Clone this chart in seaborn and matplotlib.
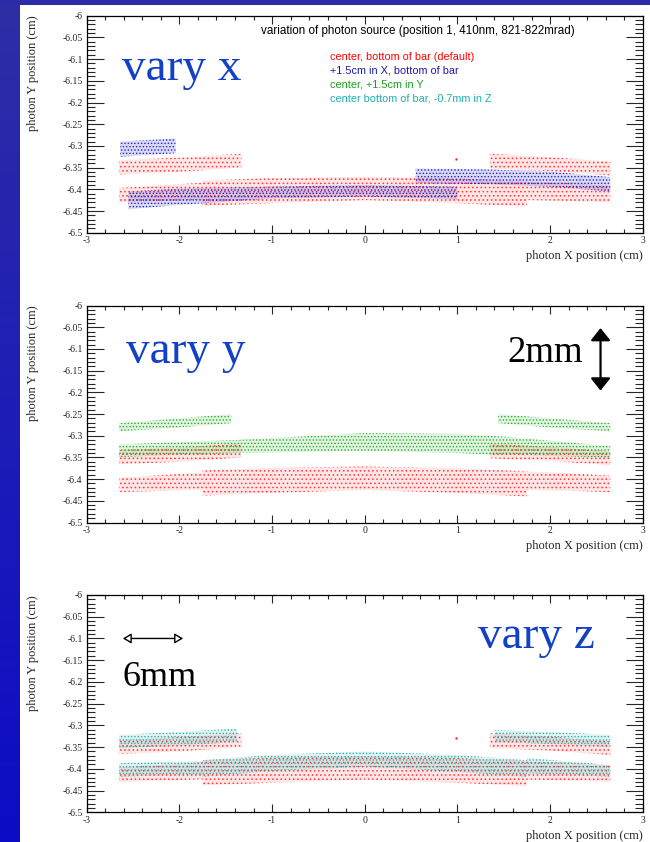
import matplotlib
matplotlib.use("Agg")
import numpy as np
import pandas as pd
import matplotlib.pyplot as plt
import seaborn as sns
from matplotlib.ticker import MultipleLocator, FuncFormatter
from matplotlib.colors import to_rgba

# ---- photon hit bands: x samples (cm) with upper / lower y edges (cm) ----
# default source: centre, bottom of bar
red_x = [[-2.65, -2.0, -1.33], [-2.65, -2.0, -1.75], [-1.75, -1.0, 0.0, 1.0, 1.75],
         [1.35, 2.0, 2.65], [1.75, 2.2, 2.65]]
red_top = [[-6.333, -6.327, -6.318], [-6.397, -6.388, -6.385],
           [-6.380, -6.374, -6.371, -6.375, -6.382], [-6.318, -6.326, -6.336],
           [-6.383, -6.386, -6.392]]
red_bot = [[-6.366, -6.360, -6.350], [-6.430, -6.426, -6.424],
           [-6.438, -6.432, -6.425, -6.432, -6.440], [-6.352, -6.358, -6.368],
           [-6.425, -6.427, -6.430]]

# +1.5 cm in X, bottom of bar
blue_x = [[-2.64, -2.04], [-2.55, -2.0, -1.0, 0.0, 1.0], [0.55, 1.3, 2.0, 2.65]]
blue_top = [[-6.290, -6.283], [-6.405, -6.398, -6.394, -6.390, -6.394],
            [-6.352, -6.354, -6.359, -6.372]]
blue_bot = [[-6.325, -6.317], [-6.446, -6.436, -6.421, -6.417, -6.423],
            [-6.386, -6.388, -6.394, -6.405]]

# centre, +1.5 cm in Y
green_x = [[-2.65, -2.0, -1.44], [-2.65, -1.4, 0.0, 1.0, 1.5, 2.65], [1.44, 2.0, 2.65]]
green_top = [[-6.271, -6.260, -6.250], [-6.320, -6.310, -6.294, -6.296, -6.302, -6.324],
             [-6.250, -6.260, -6.271]]
green_bot = [[-6.290, -6.281, -6.271], [-6.349, -6.340, -6.335, -6.340, -6.344, -6.350],
             [-6.271, -6.281, -6.290]]

# centre bottom of bar, -0.7 mm in Z
cyan_x = [[-2.65, -2.0, -1.38], [-2.65, -2.2, -1.75], [-1.75, -1.0, 0.0, 1.0, 1.75],
          [1.40, 2.0, 2.65], [1.75, 2.2, 2.65]]
cyan_top = [[-6.322, -6.315, -6.307], [-6.387, -6.384, -6.382],
            [-6.380, -6.368, -6.360, -6.368, -6.380], [-6.311, -6.315, -6.322],
            [-6.375, -6.383, -6.391]]
cyan_bot = [[-6.352, -6.347, -6.338], [-6.418, -6.415, -6.413],
            [-6.418, -6.405, -6.395, -6.407, -6.418], [-6.338, -6.343, -6.349],
            [-6.410, -6.414, -6.418]]

# isolated hit of the default source
stray_x = [0.984]
stray_y = [-6.330]

legend_labels = ["center, bottom of bar (default)", "+1.5cm in X, bottom of bar",
                 "center, +1.5cm in Y", "center bottom of bar, -0.7mm in Z"]
title_text = "variation of photon source (position 1, 410nm, 821-822mrad)"

RED, BLUE, GREEN, CYAN = "#ff2a2a", "#1414c8", "#18a818", "#14acac"
TXT_COLORS = ["#ff0000", "#1a1aa8", "#1aa01a", "#20b0b0"]
VARY_BLUE = "#1241c8"

sns.set_style("ticks")
plt.rcParams["font.family"] = ["Liberation Serif", "DejaVu Serif"]
plt.rcParams["hatch.linewidth"] = 0.6

fig = plt.figure(figsize=(6.5, 8.42), dpi=100)
W, H = 650.0, 842.0

# blue frame strips
strip = fig.add_axes([0, 0, 20 / W, 1])
grad = np.linspace(0, 1, 256)[:, None]
strip.imshow(grad, aspect="auto", cmap=matplotlib.colors.LinearSegmentedColormap.from_list(
    "strip", ["#2e2ea6", "#0c0cc6"]), extent=[0, 1, 0, 1], origin="upper")
strip.set_axis_off()
topbar = fig.add_axes([0, 1 - 5 / H, 1, 5 / H])
topbar.set_facecolor("#2c2ca8")
topbar.set_xticks([]); topbar.set_yticks([])
for s in topbar.spines.values():
    s.set_visible(False)


def panel_axes(top_px, bottom_px):
    left, right = 86.7, 642.7
    return fig.add_axes([left / W, 1 - bottom_px / H, (right - left) / W,
                         (bottom_px - top_px) / H])


def draw_band(ax, xs, top, bot, color, hatch, face_alpha):
    df = pd.DataFrame({"x": list(xs) + list(xs), "y": list(top) + list(bot)})
    n = len(ax.collections)
    sns.lineplot(data=df, x="x", y="y", estimator="mean", errorbar=("pi", 100),
                 color=color, linewidth=0, ax=ax, legend=False)
    band = ax.collections[n]
    band.set_alpha(None)
    band.set_facecolor(to_rgba(color, face_alpha))
    band.set_edgecolor(to_rgba(color, 0.9))
    band.set_linewidth(0)
    band.set_hatch(hatch)


def draw_series(ax, xs, tops, bots, color, hatch, face_alpha):
    for x, t, b in zip(xs, tops, bots):
        draw_band(ax, x, t, b, color, hatch, face_alpha)


def style_panel(ax):
    ax.set_xlim(-3, 3)
    ax.set_ylim(-6.5, -6.0)
    ax.xaxis.set_major_locator(MultipleLocator(1))
    ax.xaxis.set_minor_locator(MultipleLocator(0.2))
    ax.yaxis.set_major_locator(MultipleLocator(0.05))
    ax.yaxis.set_minor_locator(MultipleLocator(0.01))
    fmt = FuncFormatter(lambda v, p: f"{v:g}")
    ax.xaxis.set_major_formatter(fmt)
    ax.yaxis.set_major_formatter(fmt)
    ax.tick_params(axis="x", which="major", direction="in", length=5.5, width=0.8,
                   top=True, labelsize=7, pad=2.5)
    ax.tick_params(axis="x", which="minor", direction="in", length=3, width=0.8, top=True)
    ax.tick_params(axis="y", which="major", direction="in", length=12, width=0.8,
                   right=True, labelsize=7, pad=3)
    ax.tick_params(axis="y", which="minor", direction="in", length=5.8, width=0.8, right=True)
    for s in ax.spines.values():
        s.set_visible(True)
        s.set_linewidth(0.9)
        s.set_color("black")
    ax.set_xlabel("photon X position (cm)", fontsize=9, ha="right", va="center")
    ax.xaxis.set_label_coords(1.0, -23.7 / 217)
    ax.set_ylabel("photon Y position (cm)", fontsize=9, ha="right", va="center")
    ax.yaxis.set_label_coords(-0.0966, 1.0)


# ---------------- panel 1: vary x ----------------
ax1 = panel_axes(15.7, 232.7)
draw_series(ax1, red_x, red_top, red_bot, RED, "....", 0.12)
draw_series(ax1, blue_x, blue_top, blue_bot, BLUE, ".....", 0.16)
sns.scatterplot(x=stray_x, y=stray_y, color=RED, s=3, linewidth=0, ax=ax1, legend=False)
style_panel(ax1)
ax1.text(-2.62, -6.148, "vary x", color=VARY_BLUE, fontsize=34, ha="left", va="baseline")
ax1.text(-1.123, -6.0346, title_text, family=["Liberation Sans", "DejaVu Sans"],
         fontsize=8.4, ha="left", va="center", color="black")
for lbl, col, yy in zip(legend_labels, TXT_COLORS, [-6.0959, -6.1274, -6.1590, -6.1903]):
    ax1.text(-0.375, yy, lbl, family=["Liberation Sans", "DejaVu Sans"], fontsize=7.8,
             color=col, ha="left", va="center")

# ---------------- panel 2: vary y ----------------
ax2 = panel_axes(305.5, 522.5)
draw_series(ax2, red_x, red_top, red_bot, RED, "....", 0.12)
draw_series(ax2, green_x, green_top, green_bot, GREEN, ".....", 0.13)
style_panel(ax2)
ax2.text(-2.575, -6.1325, "vary y", color=VARY_BLUE, fontsize=34, ha="left", va="baseline")
ax2.text(1.545, -6.1295, "2mm", color="black", fontsize=26.5, ha="left", va="baseline")
ax2.annotate("", xy=(2.545, -6.196), xytext=(2.545, -6.052),
             arrowprops=dict(arrowstyle="<|-|>,head_length=0.75,head_width=0.6",
                             mutation_scale=10, color="black", lw=1.6,
                             shrinkA=0, shrinkB=0))

# ---------------- panel 3: vary z ----------------
ax3 = panel_axes(595.0, 812.3)
draw_series(ax3, red_x, red_top, red_bot, RED, "....", 0.12)
draw_series(ax3, cyan_x, cyan_top, cyan_bot, CYAN, ".....", 0.13)
sns.scatterplot(x=stray_x, y=stray_y, color=RED, s=3, linewidth=0, ax=ax3, legend=False)
style_panel(ax3)
ax3.text(1.221, -6.122, "vary z", color=VARY_BLUE, fontsize=34, ha="left", va="baseline")
ax3.text(-2.612, -6.209, "6mm", color="black", fontsize=26, ha="left", va="baseline")
ax3.annotate("", xy=(-1.96, -6.1), xytext=(-2.61, -6.1),
             arrowprops=dict(arrowstyle="<|-|>,head_length=0.5,head_width=0.3",
                             mutation_scale=10, fc="white", ec="black", lw=1.0,
                             shrinkA=0, shrinkB=0))

fig.savefig("out.png", dpi=100)
